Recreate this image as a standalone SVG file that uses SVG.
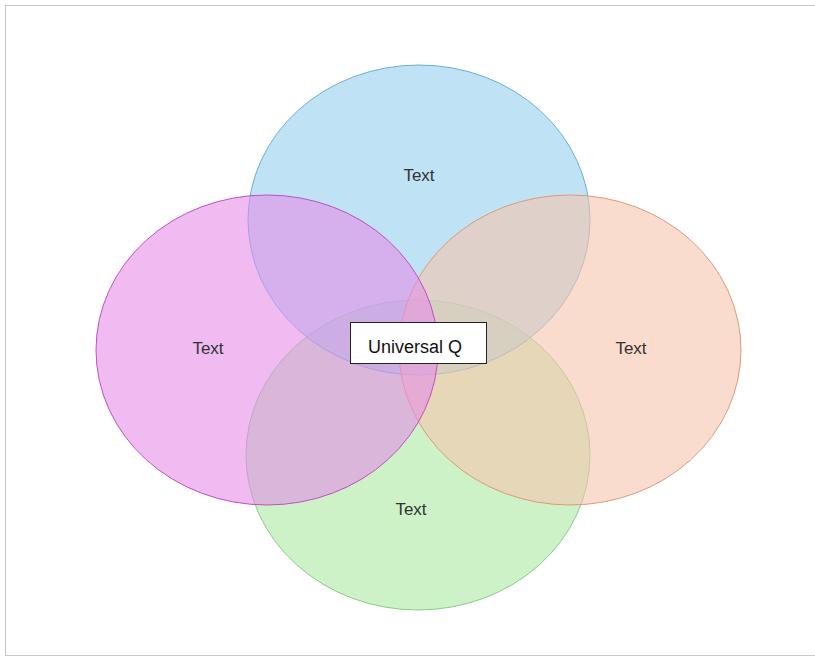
<svg xmlns="http://www.w3.org/2000/svg" width="815" height="660" viewBox="0 0 815 660">
<style>
.lbl{font-family:"Liberation Sans",Arial,sans-serif;font-size:17px;fill:#333;text-anchor:middle}
.c{fill-opacity:0.6;stroke-width:1}
</style>
<rect x="0" y="0" width="815" height="660" fill="#fff"/>
<rect x="5.5" y="5.5" width="815" height="650" fill="none" stroke="#c8c8c8" stroke-width="1"/>
<g id="green"><ellipse class="c" cx="418" cy="455" rx="172" ry="155" fill="#ace9a3" stroke="#88cc88"/><text class="lbl" x="411" y="515">Text</text></g>
<g id="blue"><ellipse class="c" cx="419" cy="220" rx="171" ry="155" fill="#94d0ee" stroke="#6aaed6"/><text class="lbl" x="419" y="181">Text</text></g>
<g id="orange"><ellipse class="c" cx="570" cy="350" rx="171" ry="155" fill="#f5c5ac" stroke="#dc9a7c"/><text class="lbl" x="631" y="354">Text</text></g>
<g id="pink"><ellipse class="c" cx="267" cy="350" rx="171" ry="155" fill="#e48ee8" stroke="#c050c0"/><text class="lbl" x="208" y="354">Text</text></g>
<g id="center"><rect x="350.5" y="322.5" width="136" height="41" fill="#fff" stroke="#222" stroke-width="1"/><text x="415" y="353" font-family="'Liberation Sans',Arial,sans-serif" font-size="18" fill="#111" text-anchor="middle">Universal Q</text></g>
<g id="connectors"></g>
</svg>
